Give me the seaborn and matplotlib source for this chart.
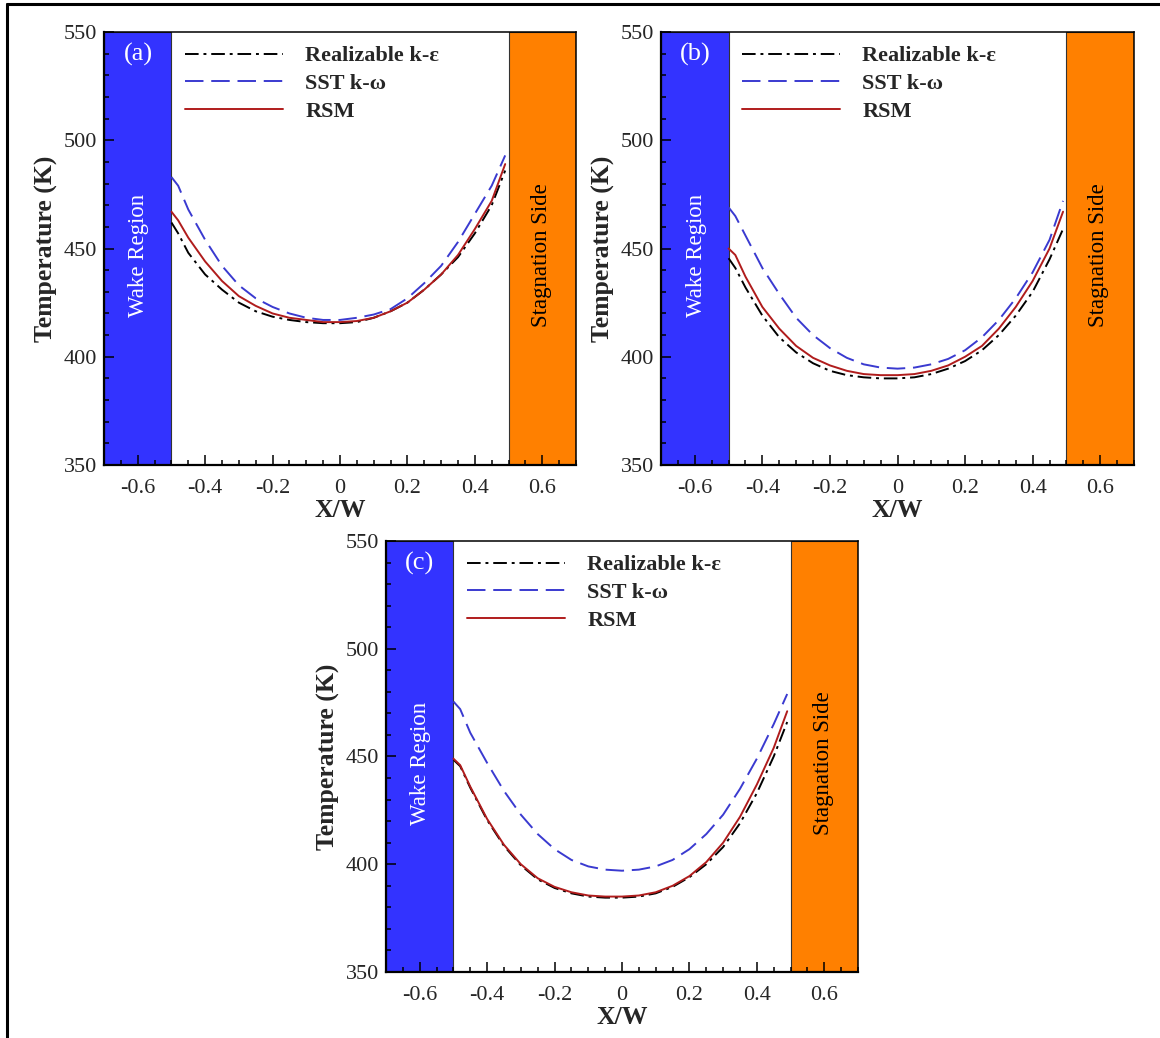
import matplotlib
matplotlib.use('Agg')
import matplotlib.pyplot as plt
from matplotlib.lines import Line2D
from matplotlib.ticker import MultipleLocator
import seaborn as sns
import pandas as pd

# 数据
x_w = [-0.5, -0.48, -0.45, -0.4, -0.35, -0.3, -0.25, -0.2, -0.15, -0.1, -0.05, 0.0,
       0.05, 0.1, 0.15, 0.2, 0.25, 0.3, 0.35, 0.4, 0.45, 0.49]

models = ['Realizable k-\u03b5', 'SST k-\u03c9', 'RSM']

# (a)
a_real = [462, 457, 448, 438, 431, 425, 421, 418.5, 417, 416, 415.5, 415.5,
          416, 418, 421, 425, 431, 438, 446, 457, 470, 486]
a_sst = [483, 479, 468, 454, 442, 433, 427, 423, 420, 418, 417, 417,
         418, 419.5, 422, 427, 434, 442, 453, 466, 479, 493]
a_rsm = [467, 463, 455, 444, 435, 428, 423.5, 420, 418, 417, 416, 416,
         416.5, 418, 421, 425, 431, 438, 447, 459, 472, 489]

# (b)
b_real = [445.5, 441, 432, 419, 409, 402, 397, 393.5, 391.5, 390.5, 390, 390,
          390.5, 392, 394.5, 398, 403, 410, 419, 430, 445, 459]
b_sst = [469, 465, 456, 441, 429, 418, 410, 404, 399.5, 396.5, 395, 394.5,
         395, 396.5, 399, 403, 409, 417, 427, 439, 454, 472]
b_rsm = [450, 447, 437, 423, 413, 405, 399.5, 396, 393.5, 392, 391.5, 391.5,
         392, 393.5, 396, 400, 405, 413, 423, 435, 450, 467]

# (c)
c_real = [448.5, 445.5, 435.5, 420.5, 408.5, 399.5, 393, 389, 386.5, 385, 384.5, 384.5,
          385, 386.5, 389.5, 394, 400, 408, 419, 433, 450, 466]
c_sst = [475.5, 472, 461, 447, 434, 423, 414, 407, 402, 399, 397.5, 397,
         397.5, 399, 402, 407, 414, 423, 435, 449, 465, 479]
c_rsm = [449, 446, 436, 421, 409, 400, 393.5, 389.5, 387, 385.5, 385, 385,
         385.5, 387, 390, 394.5, 401, 410, 422, 437, 454, 471]

panel_tags = ['(a)', '(b)', '(c)']
panel_series = [(a_real, a_sst, a_rsm), (b_real, b_sst, b_rsm), (c_real, c_sst, c_rsm)]

x_ticks = [-0.6, -0.4, -0.2, 0.0, 0.2, 0.4, 0.6]
x_tick_labels = ['-0.6', '-0.4', '-0.2', '0', '0.2', '0.4', '0.6']
y_ticks = [350, 400, 450, 500, 550]

sns.set_style('white')
plt.rcParams['font.family'] = ['Liberation Serif', 'DejaVu Serif']
plt.rcParams['axes.unicode_minus'] = False

palette = {models[0]: 'black', models[1]: '#3a3ad0', models[2]: '#b01c1c'}
dashes = {models[0]: (7, 2.5, 1.5, 2.5), models[1]: (9.5, 4), models[2]: ''}

fig = plt.figure(figsize=(11.6, 10.38), dpi=100)

W, H = 1160.0, 1038.0
# 各子图位置（像素：左、上、右、下）
boxes = [(104, 32, 576, 465), (661, 32, 1134, 465), (386, 541, 858, 972)]

for tag, series, box in zip(panel_tags, panel_series, boxes):
    l, t, r, b = box
    ax = fig.add_axes([l / W, 1 - b / H, (r - l) / W, (b - t) / H])

    frames = []
    for m, vals in zip(models, series):
        frames.append(pd.DataFrame({'x': x_w, 'T': vals, 'model': m}))
    df = pd.concat(frames, ignore_index=True)

    ax.axvspan(-0.7, -0.5, facecolor='#3333ff', edgecolor='#333333', lw=0.8, zorder=0)
    ax.axvspan(0.5, 0.7, facecolor='#ff8000', edgecolor='#333333', lw=0.8, zorder=0)

    sns.lineplot(data=df, x='x', y='T', hue='model', style='model',
                 hue_order=models, style_order=models, palette=palette,
                 dashes=dashes, linewidth=1.4, ax=ax, zorder=3)

    old = ax.get_legend()
    handles = old.legend_handles
    labels = [txt.get_text() for txt in old.texts]
    old.remove()
    ax.legend(handles, labels, loc='upper left', bbox_to_anchor=(0.172, 0.968),
              frameon=False, borderpad=0, borderaxespad=0, handlelength=4.4,
              handletextpad=1.0, labelspacing=0.32,
              prop={'weight': 'bold', 'size': 16, 'family': ['Liberation Serif', 'DejaVu Serif']})

    ax.set_xlim(-0.7, 0.7)
    ax.set_ylim(350, 550)
    ax.set_xticks(x_ticks, labels=x_tick_labels)
    ax.set_yticks(y_ticks)
    ax.xaxis.set_minor_locator(MultipleLocator(0.05))
    ax.yaxis.set_minor_locator(MultipleLocator(10))
    ax.tick_params(which='both', direction='in', bottom=True, left=True, top=False, right=False,
                   labelsize=16, color='black', width=1.1)
    ax.tick_params(which='major', length=7)
    ax.tick_params(which='minor', length=3.8)
    ax.tick_params(axis='x', which='major', pad=10)
    ax.tick_params(axis='y', which='major', pad=5)
    for s in ax.spines.values():
        s.set_color('black')
        s.set_linewidth(1.1)
    ax.spines['bottom'].set_linewidth(1.6)
    ax.spines['left'].set_linewidth(1.6)

    ax.set_xlabel('X/W', fontsize=18.5, fontweight='bold', labelpad=1)
    ax.set_ylabel('Temperature (K)', fontsize=18.5, fontweight='bold', labelpad=4)

    ax.text(0.072, 0.947, tag, transform=ax.transAxes, color='white',
            fontsize=19, ha='center', va='center')
    ax.text(0.074, 0.485, 'Wake Region', transform=ax.transAxes, color='white',
            fontsize=16.5, rotation=90, ha='center', va='center')
    ax.text(0.926, 0.485, 'Stagnation Side', transform=ax.transAxes, color='black',
            fontsize=16.5, rotation=90, ha='center', va='center')

# 外框（上边和左边）
fig.add_artist(Line2D([7 / W, 7 / W], [0, 1 - 4 / H], transform=fig.transFigure,
                      color='black', lw=2.2))
fig.add_artist(Line2D([7 / W, 1], [1 - 4 / H, 1 - 4 / H], transform=fig.transFigure,
                      color='black', lw=2.2))

fig.savefig('out.png', dpi=100)
